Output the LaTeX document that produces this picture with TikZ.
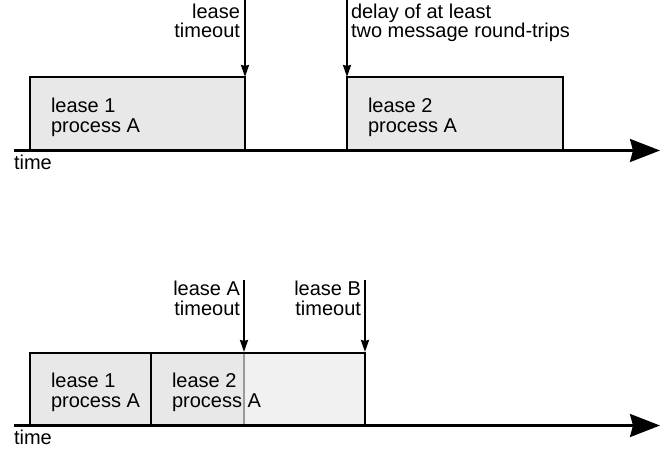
\documentclass[tikz,border=0pt]{standalone}
\usepackage{fontspec}
\setmainfont{Liberation Sans}
\usetikzlibrary{arrows.meta}
\definecolor{boxfill}{HTML}{E8E8E8}
\definecolor{boxpale}{HTML}{F1F1F1}
\definecolor{divider}{HTML}{9A9A9A}
\begin{document}
\begin{tikzpicture}[x=1pt,y=-1pt,
  lbl/.style={font=\fontsize{20}{20}\selectfont, inner sep=0pt, outer sep=0pt, align=left},
  lblr/.style={lbl, align=right},
  box/.style={draw=black, line width=2pt, fill=boxfill, inner sep=0pt, outer sep=0pt, anchor=north west},
  axis/.style={line width=2.6pt, -{Stealth[length=30pt,width=23pt,inset=3pt]}},
  marker/.style={line width=2pt, shorten >=0.5pt, -{Stealth[length=12pt,width=8pt,inset=1pt]}},
]
\useasboundingbox (0,0) rectangle (670,452);

% ---------- first time line: lease expires before the next one ----------
\node[box, minimum width=215.5pt, minimum height=73pt] (b1) at (29.5,77.5) {};
\node[box, minimum width=216pt, minimum height=73pt] (b2) at (347,77.5) {};
\coordinate (ax1s) at (14,150.5);
\coordinate (ax1e) at (660,150.5);
\draw[axis] (ax1s) -- (ax1e);

% multi-line labels are anchored on the baseline of their last line
\node[lbl, anchor=base west] (t1) at (51,132.5) {lease 1\\process A};
\node[lbl, anchor=base west] (t2) at (368,132.5) {lease 2\\process A};
\node[lbl, anchor=base west] (time1) at (14,169) {time};

\coordinate (m1) at (245,0);
\coordinate (m2) at (347,0);
\draw[marker] (m1) -- (b1.north east);
\draw[marker] (m2) -- (b2.north west);
\node[lblr, anchor=base east] (l1) at (240,38) {lease\\timeout};
\node[lbl, anchor=base west] (l2) at (351,38) {delay of at least\\two message round-trips};

% ---------- second time line: overlapping leases ----------
\node[box, fill=boxpale, minimum width=214pt, minimum height=73pt] (b4) at (151,352.5) {};
\coordinate (cut) at (244,352.5);
\fill[boxfill] (b4.north west) rectangle (244,425.5);
\draw[divider, line width=2pt] (cut) -- (244,425.5);
\draw[line width=2pt] (b4.north west) rectangle (b4.south east);
\node[box, minimum width=121.5pt, minimum height=73pt] (b3) at (29.5,352.5) {};
\coordinate (ax2s) at (14,425.5);
\coordinate (ax2e) at (660,425.5);
\draw[axis] (ax2s) -- (ax2e);

\node[lbl, anchor=base west] (t3) at (51,407.5) {lease 1\\process A};
\node[lbl, anchor=base west] (t4) at (172,407.5) {lease 2\\process A};
\node[lbl, anchor=base west] (time2) at (14,444) {time};

\coordinate (m3) at (244,280);
\coordinate (m4) at (365,280);
\draw[marker] (m3) -- (cut);
\draw[marker] (m4) -- (b4.north east);
\node[lblr, anchor=base east] (l3) at (240,315) {lease A\\timeout};
\node[lblr, anchor=base east] (l4) at (361,315) {lease B\\timeout};
\end{tikzpicture}
\end{document}
